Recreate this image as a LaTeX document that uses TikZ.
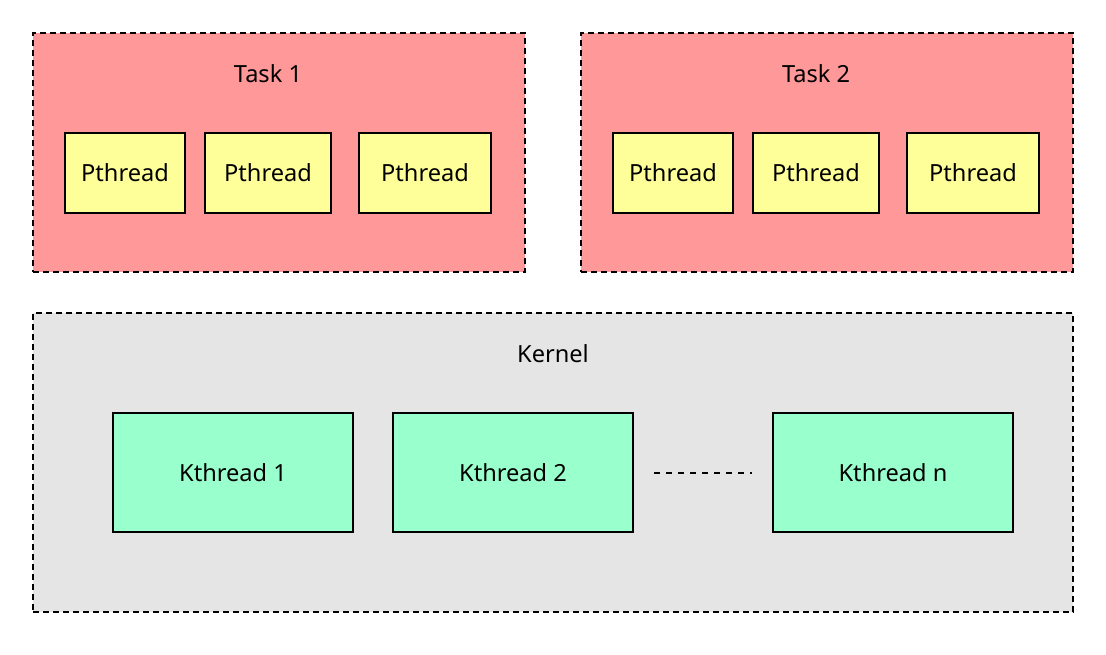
\documentclass[tikz,border=0pt]{standalone}
\usepackage{fontspec}
\setmainfont{Noto Sans}
\usetikzlibrary{positioning}
\definecolor{taskred}{HTML}{FF9999}
\definecolor{pyellow}{HTML}{FFFF99}
\definecolor{kgreen}{HTML}{99FFCC}
\definecolor{kgray}{HTML}{E5E5E5}

\begin{document}
\begin{tikzpicture}[x=0.5pt,y=-0.5pt,
  font=\fontsize{11.8}{14}\selectfont,
  group/.style={draw,line width=1pt,dash pattern=on 3pt off 2pt,rectangle,inner sep=0pt},
  pthread/.style={draw,line width=1pt,rectangle,fill=pyellow,minimum height=40pt,inner sep=0pt},
  kthread/.style={draw,line width=1pt,rectangle,fill=kgreen,minimum height=59.5pt,minimum width=120pt,inner sep=0pt}]
  \useasboundingbox (0,0) rectangle (1106,654);
  % groups
  \node[group,fill=taskred,minimum width=246pt,minimum height=119.5pt] (task1) at (279,152.5) {};
  \node[group,fill=taskred,minimum width=246pt,minimum height=119.5pt] (task2) at (827,152.5) {};
  \node[group,fill=kgray,minimum width=520pt,minimum height=149.5pt] (kernel) at (553,462.5) {};
  % pthreads
  \node[pthread,minimum width=60pt] (p11) at (125,173) {Pthread};
  \node[pthread,minimum width=63pt] (p12) at (268,173) {Pthread};
  \node[pthread,minimum width=66pt] (p13) at (425,173) {Pthread};
  \node[pthread,minimum width=60pt] (p21) at (673,173) {Pthread};
  \node[pthread,minimum width=63pt] (p22) at (816,173) {Pthread};
  \node[pthread,minimum width=66pt] (p23) at (973,173) {Pthread};
  % labels
  \node (t1) at (268,74) {Task 1};
  \node (t2) at (816,74) {Task 2};
  \node (kl) at (553,354) {Kernel};
  % kthreads
  \node[kthread] (k1) at (233,472.5) {Kthread 1};
  \node[kthread] (k2) at (513,472.5) {Kthread 2};
  \node[kthread] (kn) at (893,472.5) {Kthread n};
  \draw[line width=1pt,dash pattern=on 3pt off 3pt,shorten <=10pt,shorten >=10pt] (k2) -- (kn);
\end{tikzpicture}
\end{document}
